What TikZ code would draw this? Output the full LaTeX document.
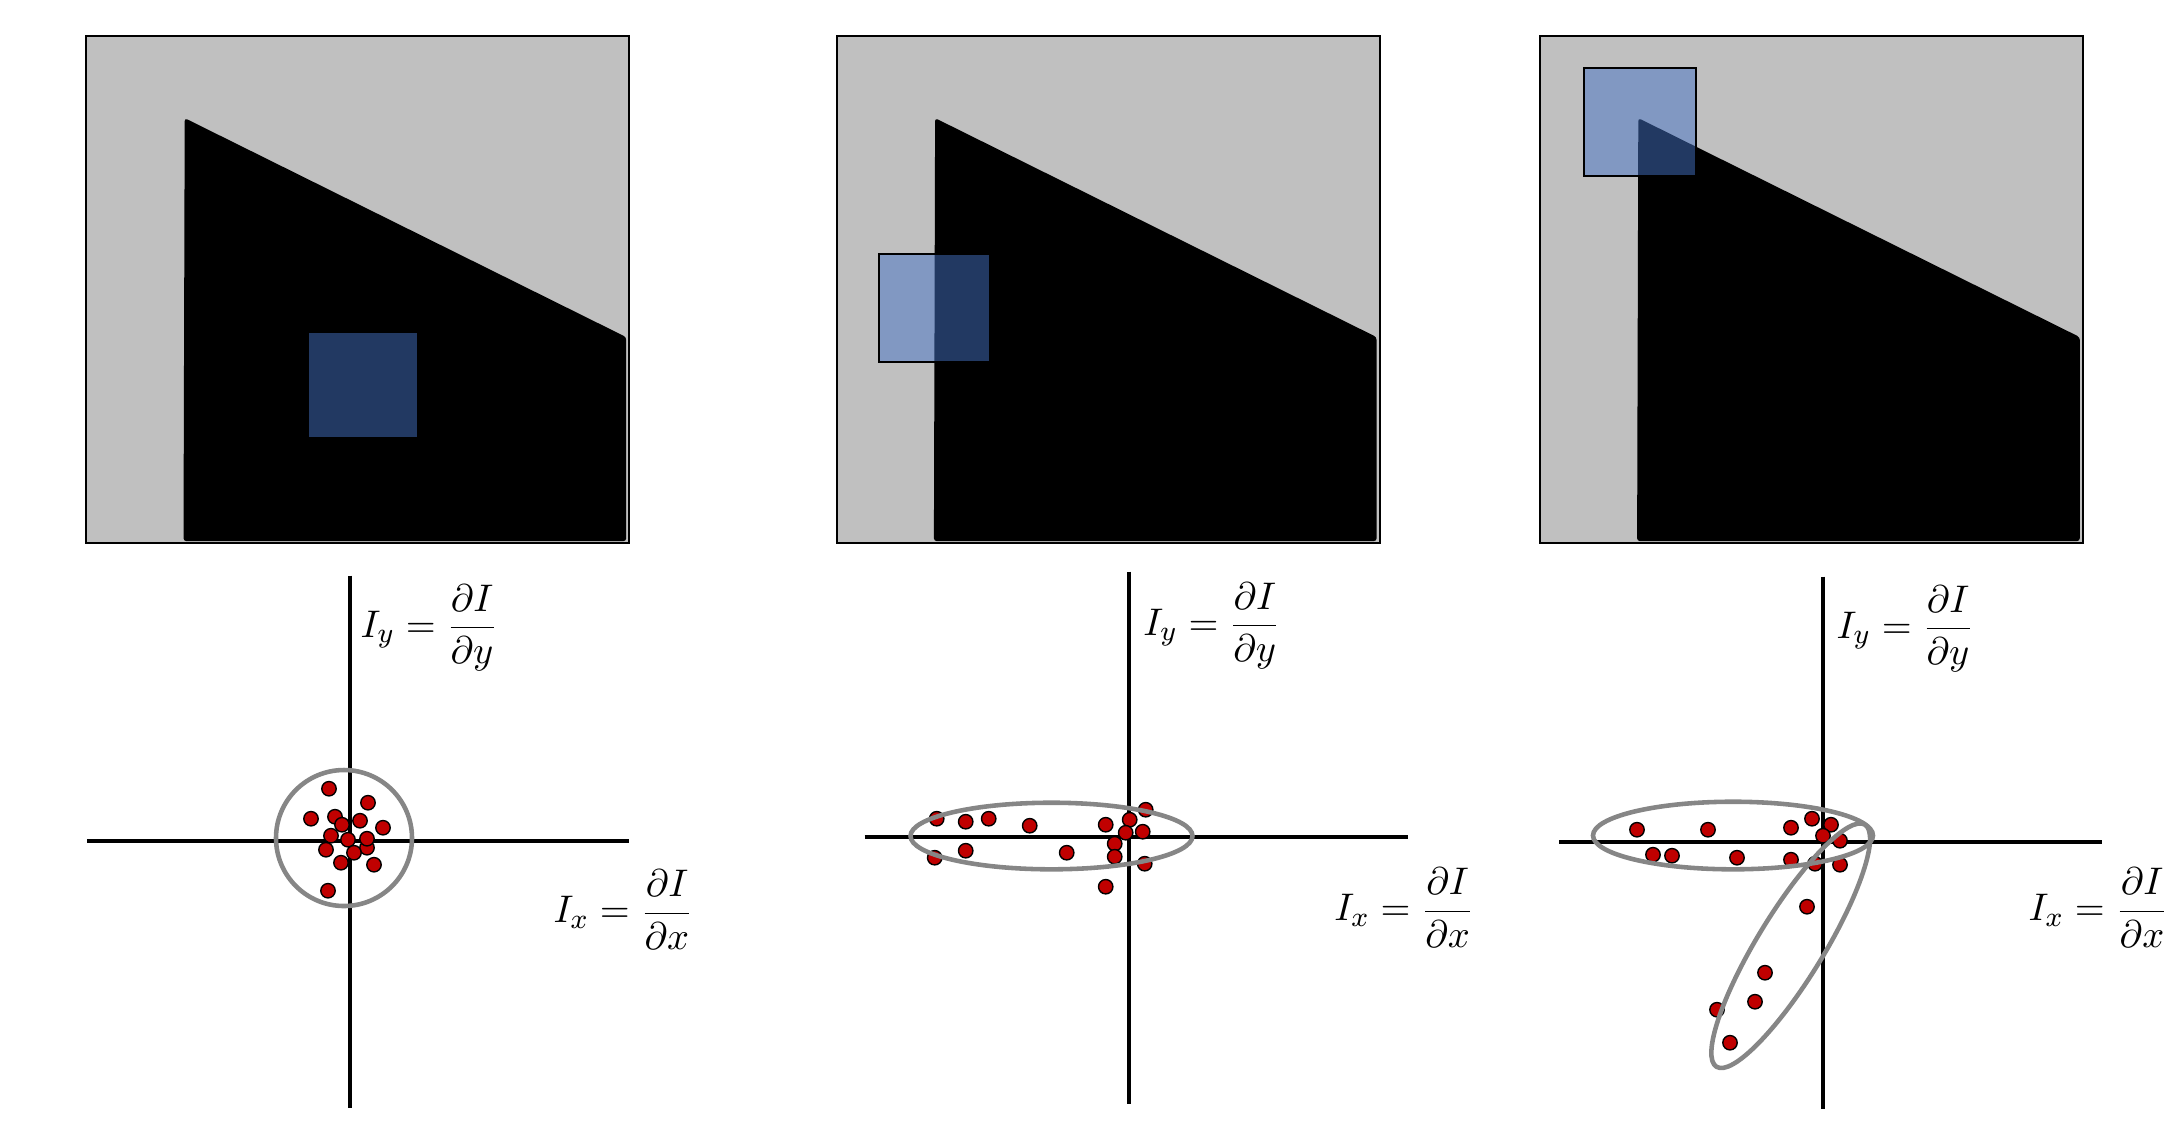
\documentclass[tikz,border=0pt]{standalone}
\usepackage{amsmath}
\usepackage{tikz}
\usetikzlibrary{positioning}

\definecolor{imggray}{RGB}{192,192,192}
\definecolor{winblue}{RGB}{68,114,196}
\definecolor{dotred}{RGB}{192,0,0}
\definecolor{ringgray}{RGB}{134,134,134}

\tikzset{
  frame/.style={fill=imggray, draw=black, line width=0.6pt},
  corner/.style={fill=black, rounded corners=0.8pt},
  window/.style={fill=winblue, fill opacity=0.5, draw=black, draw opacity=1, line width=0.6pt},
  axis/.style={line width=1.1pt},
  dot/.style={fill=dotred, draw=black, line width=0.4pt},
  ring/.style={draw=ringgray, line width=1.3pt},
  lbl/.style={font=\fontsize{11}{14}\selectfont, inner sep=0pt, anchor=west}
}

\begin{document}
\begin{tikzpicture}
  \useasboundingbox (0,0) rectangle (21.79,-11.42);

  % top row: image patches
  \begin{scope}[shift={(0.862,-0.361)}]
    \draw[frame] (0,0) rectangle (5.43,-5.07);
    \fill[corner] (0.973,-5.05) -- (0.985,-0.82) -- (5.40,-3.01) -- (5.40,-5.05) -- cycle;
    \draw[window] (2.22,-2.96) rectangle (3.32,-4.02);
  \end{scope}
  \begin{scope}[shift={(8.366,-0.361)}]
    \draw[frame] (0,0) rectangle (5.43,-5.07);
    \fill[corner] (0.973,-5.05) -- (0.985,-0.82) -- (5.40,-3.01) -- (5.40,-5.05) -- cycle;
    \draw[window] (0.42,-2.18) rectangle (1.53,-3.26);
  \end{scope}
  \begin{scope}[shift={(15.398,-0.361)}]
    \draw[frame] (0,0) rectangle (5.43,-5.07);
    \fill[corner] (0.973,-5.05) -- (0.985,-0.82) -- (5.40,-3.01) -- (5.40,-5.05) -- cycle;
    \draw[window] (0.44,-0.32) rectangle (1.56,-1.40);
  \end{scope}

  % bottom row: gradient scatter plots
  \begin{scope}[shift={(3.50,-8.407)}]
    \draw[axis] (0,2.65) -- (0,-2.67);
    \draw[axis] (-2.63,0) -- (2.79,0);
    \node[lbl] (iy1) at (0.10,2.13) {$I_y=\dfrac{\partial I}{\partial y}$};
    \node[lbl] (ix1) at (2.03,-0.69) {$I_x=\dfrac{\partial I}{\partial x}$};
    \foreach \x/\y in {-0.21/0.52, 0.18/0.38, -0.39/0.22, -0.15/0.24, -0.08/0.16,
        0.10/0.20, 0.33/0.13, -0.19/0.05, 0.17/-0.07, 0.17/0.02, -0.02/0.01,
        -0.24/-0.09, 0.04/-0.12, -0.09/-0.22, 0.24/-0.24, -0.22/-0.50}
      \draw[dot] (\x,\y) circle (0.072);
    \draw[ring] (-0.06,0.027) circle (0.68);
  \end{scope}

  \begin{scope}[shift={(11.287,-8.367)}]
    \draw[axis] (0,2.65) -- (0,-2.67);
    \draw[axis] (-2.64,0) -- (2.79,0);
    \node[lbl] (iy2) at (0.14,2.11) {$I_y=\dfrac{\partial I}{\partial y}$};
    \node[lbl] (ix2) at (2.05,-0.71) {$I_x=\dfrac{\partial I}{\partial x}$};
    \foreach \x/\y in {-1.92/0.18, -1.63/0.15, -1.40/0.18, -0.99/0.11, -0.23/0.12,
        0.17/0.27, 0.01/0.17, -0.03/0.04, 0.14/0.05, -0.14/-0.07, -0.14/-0.20,
        0.16/-0.27, -0.62/-0.16, -1.63/-0.14, -1.94/-0.21, -0.23/-0.50}
      \draw[dot] (\x,\y) circle (0.072);
    \draw[ring] (-0.772,0.007) ellipse [x radius=1.41, y radius=0.333];
  \end{scope}

  \begin{scope}[shift={(18.23,-8.417)}]
    \draw[axis] (0,2.65) -- (0,-2.67);
    \draw[axis] (-2.64,0) -- (2.79,0);
    \node[lbl] (iy3) at (0.13,2.13) {$I_y=\dfrac{\partial I}{\partial y}$};
    \node[lbl] (ix3) at (2.05,-0.66) {$I_x=\dfrac{\partial I}{\partial x}$};
    \foreach \x/\y in {-1.86/0.12, -1.15/0.12, -0.32/0.14, -0.11/0.23, 0.08/0.17,
        0.00/0.06, 0.17/0.01, -1.70/-0.13, -1.51/-0.14, -0.86/-0.16, -0.32/-0.18,
        -0.08/-0.22, 0.17/-0.23, -0.16/-0.65, -0.58/-1.31, -0.68/-1.60,
        -1.06/-1.68, -0.93/-2.01}
      \draw[dot] (\x,\y) circle (0.072);
    \draw[ring] (-0.90,0.062) ellipse [x radius=1.40, y radius=0.338];
    \draw[ring, rotate around={58.5:(-0.323,-1.04)}] (-0.323,-1.04) ellipse [x radius=1.42, y radius=0.33];
  \end{scope}
\end{tikzpicture}
\end{document}
